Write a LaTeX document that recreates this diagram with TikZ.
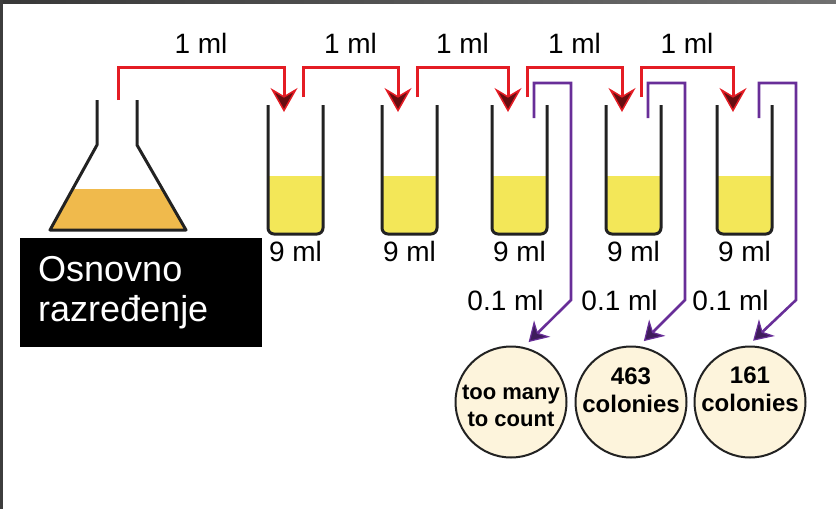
\documentclass[tikz,border=0pt]{standalone}
\usepackage{fontspec}
\setmainfont{Liberation Sans}
\usetikzlibrary{arrows.meta,calc}

\definecolor{flowred}{RGB}{228,28,36}
\definecolor{flowviolet}{RGB}{104,46,152}
\definecolor{broth}{RGB}{243,231,88}
\definecolor{stockfill}{RGB}{240,186,76}
\definecolor{agar}{RGB}{253,244,220}
\definecolor{glass}{RGB}{34,34,34}

\tikzset{
  glasswall/.style={draw=glass, line width=3pt, line join=round},
  transfer/.style={draw=flowred, line width=3pt,
    -{Stealth[length=24pt,width=27pt,inset=8pt,fill=flowred!45!black,line width=1.5pt]}},
  plating/.style={draw=flowviolet, line width=2.6pt,
    -{Stealth[length=19pt,width=23pt,inset=6pt,fill=flowviolet!60!black,line width=1.2pt]}},
  vol/.style={font=\fontsize{28}{30}\selectfont, inner sep=2pt},
  plate/.style={circle, draw=glass, line width=2pt, fill=agar, minimum size=111pt, inner sep=0pt},
  count/.style={align=center, inner sep=0pt},
  stockbox/.style={fill=black, text=white, minimum width=242pt, minimum height=109pt,
    text width=206pt, inner xsep=18pt, inner ysep=0pt, align=left,
    font=\fontsize{36}{40}\selectfont},
}

\begin{document}
\begin{tikzpicture}[x=1pt, y=-1pt]
    \useasboundingbox (0,0) rectangle (836,509);

    % 1. Frame on top and left
    \shade[left color=black!78, right color=black!56] (0,0) rectangle (836,3);
    \fill[black!76] (0,0) rectangle (3,509);

    % 2. Flask with the stock culture
    \begin{scope}
        \clip (97,100) -- (97,145) -- (50,230) -- (186,230) -- (137,145) -- (137,100) -- cycle;
        \fill[stockfill] (0,189) rectangle (836,232);
    \end{scope}
    \draw[glasswall] (97,100) -- (97,145) -- (50,230) -- (186,230) -- (137,145) -- (137,100);
    \coordinate (fl-out) at (118,100);
    \node[stockbox, anchor=north west] (stock) at (20,238) {Osnovno\\razređenje};

    % 3. Dilution tubes, 9 ml each
    \foreach \i/\x in {1/268,2/382,3/492,4/606,5/717} {
        \begin{scope}
            \clip[rounded corners=6pt] (\x,105) -- (\x,234) -- (\x+55,234) -- (\x+55,105) -- cycle;
            \fill[broth] (\x,176) rectangle (\x+55,236);
        \end{scope}
        \draw[glasswall, rounded corners=6pt] (\x,105) -- (\x,234) -- (\x+55,234) -- (\x+55,105);
        \node[vol] (v\i) at (\x+27.5,251) {9 ml};
        \coordinate (t\i-in) at (\x+16,112);
        \coordinate (t\i-out) at (\x+35,97);
        \coordinate (t\i-dip) at (\x+42,118);
    }

    % 4. Transfers of 1 ml
    \draw[transfer] (fl-out) -- ++(0,-33) -| node[pos=0.25, above=10pt, vol] (d1) {1 ml} (t1-in);
    \foreach \a/\b in {1/2,2/3,3/4,4/5}
        \draw[transfer] (t\a-out) -- ++(0,-30) -| node[pos=0.25, above=10pt, vol] (d\b) {1 ml} (t\b-in);

    % 5. Plates
    \node[plate] (p1) at (511,402) {};
    \node[plate] (p2) at (631,402) {};
    \node[plate] (p3) at (750,402) {};
    \node[count, font=\bfseries\fontsize{22}{27}\selectfont] (n1) at (511,406) {too many\\to count};
    \node[count, font=\bfseries\fontsize{24}{28}\selectfont] (n2) at (631,390) {463\\colonies};
    \node[count, font=\bfseries\fontsize{24}{28}\selectfont] (n3) at (750,389) {161\\colonies};

    % 6. Plating 0.1 ml from the last three tubes
    \foreach \t/\p/\ang in {3/1/77,4/2/82,5/3/92}
        \draw[plating, shorten >=7pt] (t\t-dip) |- ++(37,-35) -- ++(0,217)
            node[left=24pt, vol] (s\p) {0.1 ml} -- (p\p.\ang);

\end{tikzpicture}
\end{document}
